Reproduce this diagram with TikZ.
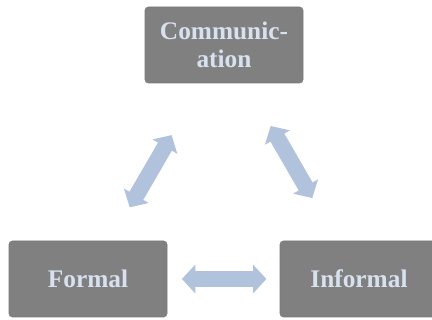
\documentclass[tikz,border=0pt]{standalone}
\usepackage{fontspec}
\setmainfont{Liberation Serif}
\usepackage{tikz}
\usetikzlibrary{arrows.meta}
\definecolor{boxgray}{HTML}{808080}
\definecolor{boxtext}{HTML}{D8E1EF}
\definecolor{linkblue}{HTML}{B1C2DD}

\begin{document}
\begin{tikzpicture}[x=0.75pt, y=-0.75pt,
  stage/.style={draw=boxgray!95!black, fill=boxgray, rounded corners=2.5pt,
    minimum width=118.5pt, minimum height=57pt, inner sep=0pt,
    text=boxtext, align=center, font=\fontsize{19}{21}\selectfont\bfseries},
  link/.style={draw=linkblue, line width=12pt,
    {Triangle[length=10pt, width=21pt]}-{Triangle[length=10pt, width=21pt]}}]
\useasboundingbox (0,0) rectangle (432,320);
\node[stage] (comm) at (224,45) {Communic-\\ation};
\node[stage] (formal) at (88,279) {Formal};
\node[stage] (informal) at (359,279) {Informal};
\draw[link, xshift=3pt, shorten <=29pt, shorten >=45pt] (formal) -- (comm);
\draw[link, shorten <=37pt, shorten >=37pt] (comm) -- (informal);
\draw[link, shorten <=11pt, shorten >=10pt] (formal) -- (informal);
\end{tikzpicture}
\end{document}
